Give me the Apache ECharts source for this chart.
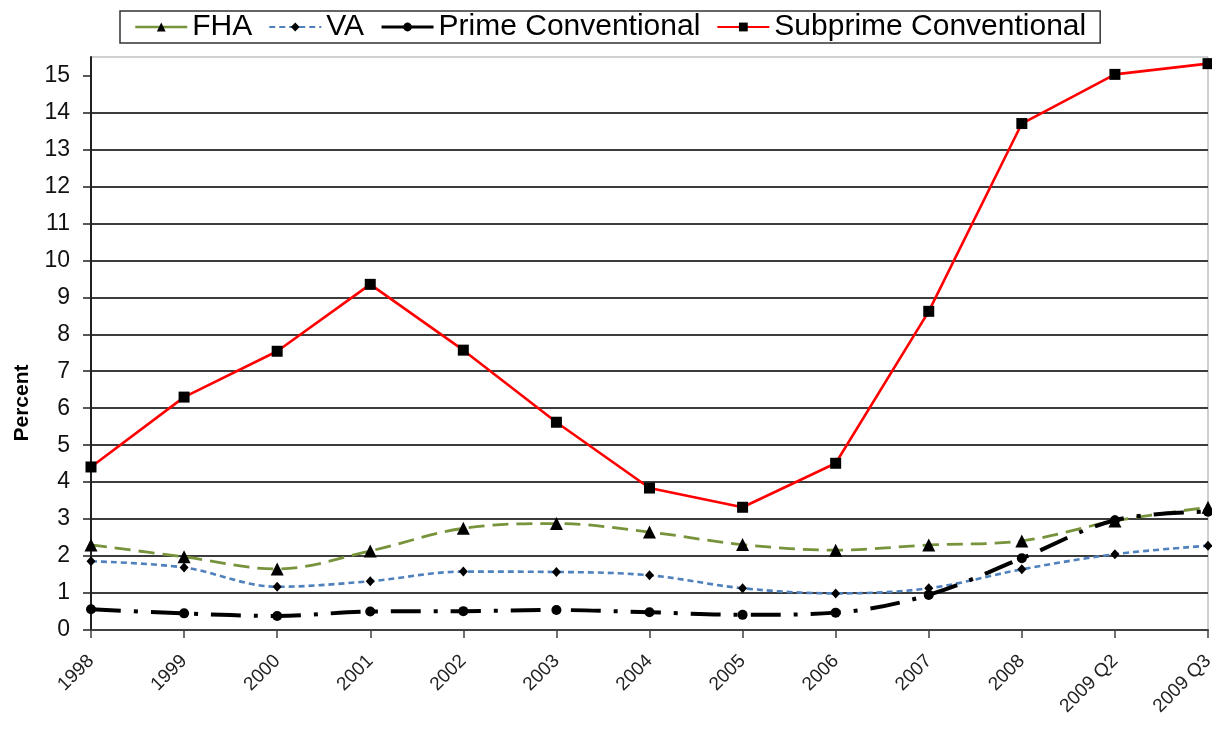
<!DOCTYPE html>
<html>
<head>
<meta charset="utf-8">
<script src="https://cdn.jsdelivr.net/npm/echarts@6/dist/echarts.min.js"></script>
<style>html,body{margin:0;padding:0;background:#fff}#c{width:1212px;height:732px}</style>
</head>
<body>
<div id="c"></div>
<script>
const categories = ['1998','1999','2000','2001','2002','2003','2004','2005','2006','2007','2008','2009 Q2','2009 Q3'];
const fha      = [2.30, 1.98, 1.65, 2.14, 2.75, 2.88, 2.65, 2.31, 2.16, 2.30, 2.41, 2.95, 3.32];
const va       = [1.86, 1.69, 1.17, 1.32, 1.58, 1.57, 1.48, 1.13, 0.99, 1.13, 1.64, 2.05, 2.28];
const prime    = [0.56, 0.45, 0.38, 0.50, 0.51, 0.54, 0.48, 0.41, 0.47, 0.95, 1.94, 2.97, 3.20];
const subprime = [4.41, 6.30, 7.54, 9.35, 7.57, 5.62, 3.84, 3.32, 4.51, 8.62, 13.70, 15.03, 15.32];
const yTicks = [0,1,2,3,4,5,6,7,8,9,10,11,12,13,14,15];
const seriesNames = ['FHA', 'VA', 'Prime Conventional', 'Subprime Conventional'];

const FONT = "'Liberation Sans', Arial, sans-serif";
const chart = echarts.init(document.getElementById('c'));
const gridColors = yTicks.map(() => '#3c3c3c').concat(['#a0a0a0']);

chart.setOption({
  animation: false,
  backgroundColor: '#fff',
  textStyle: { fontFamily: FONT },
  grid: { left: 91, right: 4, top: 57, bottom: 102, containLabel: false, outerBoundsMode: 'none', show: true, borderColor: '#a0a0a0', borderWidth: 1, backgroundColor: 'transparent' },
  legend: {
    left: 120, top: 11,
    padding: [1, 14, 1, 14],
    itemGap: 16,
    itemWidth: 52, itemHeight: 11,
    borderColor: '#333', borderWidth: 1.5,
    textStyle: { fontSize: 30, color: '#000', fontFamily: FONT },
    data: [
      { name: seriesNames[0], lineStyle: { type: 'solid', width: 2.5 } },
      { name: seriesNames[1] },
      { name: seriesNames[2], lineStyle: { type: 'solid', width: 3 } },
      { name: seriesNames[3] }
    ]
  },
  graphic: [{
    type: 'text', x: 22, y: 403, rotation: Math.PI / 2,
    style: { text: 'Percent', fontSize: 21, fontWeight: 'bold', fontFamily: FONT, fill: '#000', align: 'center', verticalAlign: 'middle' }
  }],
  xAxis: {
    type: 'category', data: categories, boundaryGap: false,
    axisLine: { lineStyle: { color: '#404040', width: 2 } },
    axisTick: { show: true, length: 8, lineStyle: { color: '#404040', width: 1.5 } },
    axisLabel: { rotate: 45, fontSize: 19, color: '#222', margin: 28, fontFamily: FONT, interval: 0 },
    splitLine: { show: false }
  },
  yAxis: {
    type: 'value', min: 0, max: 15.5, interval: 1,
    axisLine: { show: true, lineStyle: { color: '#202020', width: 2 } },
    axisTick: { show: true, length: 8, customValues: yTicks, lineStyle: { color: '#202020', width: 1.5 } },
    axisLabel: { fontSize: 23, color: '#111', margin: 21, fontFamily: FONT, customValues: yTicks },
    splitLine: { show: true, showMaxLine: false, lineStyle: { color: gridColors, width: 2 } }
  },
  series: [
    {
      name: seriesNames[0], type: 'line', data: fha, smooth: 0.35,
      symbol: 'triangle', symbolSize: 13, showSymbol: true,
      itemStyle: { color: '#000' },
      lineStyle: { color: '#77933c', width: 2.8, type: [16, 8] }
    },
    {
      name: seriesNames[1], type: 'line', data: va, smooth: 0.35,
      symbol: 'diamond', symbolSize: [9, 10], showSymbol: true,
      itemStyle: { color: '#000' },
      lineStyle: { color: '#4f81bd', width: 2.6, type: [6, 4] }
    },
    {
      name: seriesNames[2], type: 'line', data: prime, smooth: 0.35,
      symbol: 'circle', symbolSize: 10, showSymbol: true,
      itemStyle: { color: '#000' },
      lineStyle: { color: '#000', width: 4, type: [30, 13, 4, 13] }
    },
    {
      name: seriesNames[3], type: 'line', data: subprime,
      symbol: 'rect', symbolSize: 11, showSymbol: true,
      itemStyle: { color: '#000' },
      lineStyle: { color: '#ff0000', width: 2.6, type: 'solid' }
    }
  ]
});
</script>
</body>
</html>
